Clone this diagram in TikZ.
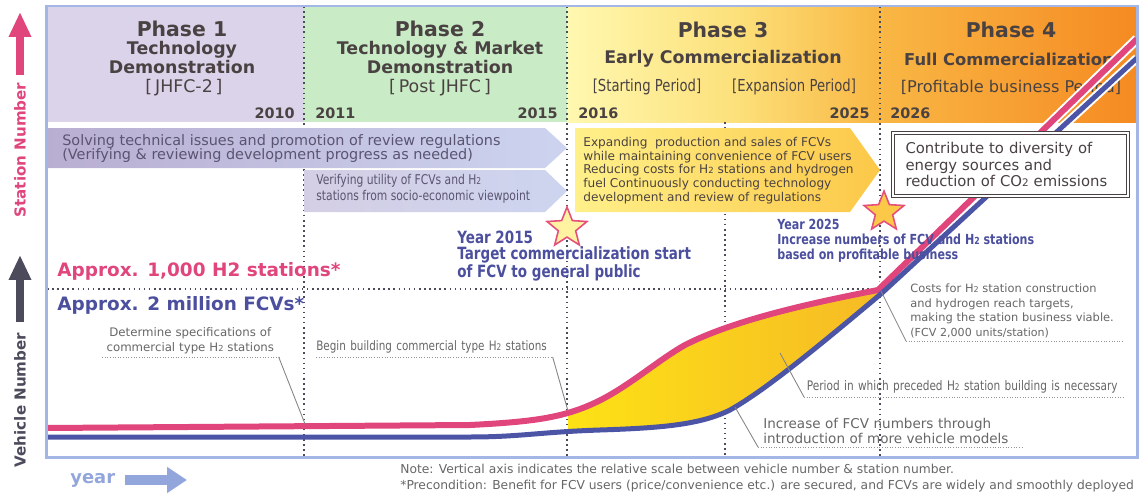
\documentclass[tikz,border=0pt]{standalone}
\usepackage{fontspec}
\setmainfont{DejaVu Sans}
\newfontfamily\narrowfont[FakeStretch=0.8]{DejaVu Sans}
\usepackage{graphicx}
\usetikzlibrary{positioning, arrows.meta, calc, shapes.geometric}

\definecolor{h2Pink}{HTML}{E0457B}
\definecolor{h2Blue}{HTML}{4C55A5}
\definecolor{h2Frame}{HTML}{A3B6E6}
\definecolor{h2Ink}{HTML}{4A4242}
\definecolor{h2Plum}{HTML}{5A5470}
\definecolor{h2Gray}{HTML}{666666}
\definecolor{h2Lavender}{HTML}{DAD3EA}
\definecolor{h2Mint}{HTML}{C9EBC6}
\definecolor{h2Cream}{HTML}{FFF8B0}
\definecolor{h2Butter}{HTML}{FCE07A}
\definecolor{h2Amber}{HTML}{F9B845}
\definecolor{h2Orange}{HTML}{F58A22}
\definecolor{h2BarDark}{HTML}{B8AED2}
\definecolor{h2BarLight}{HTML}{CDD4EF}
\definecolor{h2Lemon}{HTML}{FFF08A}
\definecolor{h2Gold}{HTML}{FCC848}
\definecolor{h2Sun}{HTML}{FFEE10}
\definecolor{h2SunDeep}{HTML}{F6BA26}
\definecolor{h2Indigo}{HTML}{4B4F9E}
\definecolor{h2Sky}{HTML}{93A6DC}
\definecolor{h2Slate}{HTML}{4B4B5C}
\definecolor{h2StarEdge}{HTML}{E4507A}

% band behind phase 3 and 4 (yellow to orange)
\pgfdeclarehorizontalshading{phaseband}{100bp}{%
  color(0bp)=(h2Cream); color(25bp)=(h2Cream); color(40bp)=(h2Butter);
  color(52bp)=(h2Amber); color(75bp)=(h2Orange); color(100bp)=(h2Orange)}

% small "2" of H2 / CO2
\newcommand{\Htwo}{H\scalebox{0.7}{2}}
\newcommand{\COtwo}{CO\scalebox{0.7}{2}}

\begin{document}
\begin{tikzpicture}[
        x=0.02cm, y=-0.02cm,
        % text styles
        phasetitle/.style={font=\bfseries\fontsize{11.6}{13}\selectfont, text=h2Ink, inner sep=0},
        phasesub/.style={font=\bfseries\fontsize{9.9}{10.8}\selectfont, text=h2Ink, inner sep=0, align=center},
        phasetag/.style={font=\fontsize{9.9}{11}\selectfont, text=h2Ink, inner sep=0},
        stagetag/.style={font=\narrowfont\fontsize{9.4}{11}\selectfont, text=h2Ink, inner sep=0},
        yearlbl/.style={font=\bfseries\fontsize{8.2}{9}\selectfont, text=h2Ink, inner sep=0},
        bartext/.style={inner sep=0, align=left, text=h2Plum},
        milestone/.style={font=\narrowfont\bfseries\fontsize{9.6}{9.1}\selectfont, text=h2Indigo, inner sep=0, align=left},
        target/.style={font=\bfseries\fontsize{10.5}{12}\selectfont, inner sep=0, anchor=west},
        annot/.style={text=h2Gray, inner xsep=0, inner ysep=0.06cm, align=left, anchor=south west},
        % lines
        guide/.style={draw=h2Slate, dotted, line width=0.9pt},
        underline/.style={draw=h2Gray!70, densely dotted, line width=0.5pt},
        leader/.style={draw=h2Gray!80, line width=0.5pt},
        stationline/.style={draw=h2Pink, line width=0.12cm, line join=round},
        vehicleline/.style={draw=h2Blue, line width=0.1cm, line join=round},
        sun/.style={star, star points=5, star point ratio=2.3, inner sep=0,
            minimum size=0.84cm, line width=0.9pt, draw=h2StarEdge}
    ]
    \useasboundingbox (0,0) rectangle (1140,497);

    % -- Header band --
    \fill[h2Lavender] (46,6) rectangle (304,122);
    \fill[h2Mint] (304,6) rectangle (567,122);
    \shade[shading=phaseband] (567,6) rectangle (1137,122);

    % -- Dotted guides --
    \foreach \gx in {304,567,880}
        \draw[guide] (\gx,6) -- (\gx,457);
    \draw[guide] (725,122) -- (725,457);
    \draw[guide] (47,289) -- (880,289);

    % -- Phase headings --
    \node[phasetitle] (ph1) at (182,29) {Phase 1};
    \node[phasesub] (ph1name) at (182,58) {Technology\\Demonstration};
    \node[phasetag] (ph1tag) at (184,88) {[\,JHFC-2\,]};

    \node[phasetitle] (ph2) at (440,29) {Phase 2};
    \node[phasesub] (ph2name) at (440,58) {Technology \& Market\\Demonstration};
    \node[phasetag] (ph2tag) at (440,88) {[\,Post JHFC\,]};

    \node[phasetitle] (ph3) at (723,30) {Phase 3};
    \node[phasesub] (ph3name) at (723,59) {Early Commercialization};
    \node[stagetag] (ph3start) at (647,87) {[Starting Period]};
    \node[stagetag] (ph3grow) at (794,87) {[Expansion Period]};

    \node[phasetitle] (ph4) at (1011,30) {Phase 4};
    \node[phasesub, font=\bfseries\fontsize{9.3}{10.8}\selectfont] (ph4name) at (1009,59) {Full Commercialization};
    \node[phasetag, font=\fontsize{9.2}{11}\selectfont] (ph4tag) at (1011,87) {[Profitable business Period]};

    % years
    \node[yearlbl, anchor=east] (y2010) at (295,113) {2010};
    \node[yearlbl, anchor=west] (y2011) at (315,113) {2011};
    \node[yearlbl, anchor=east] (y2015) at (558,113) {2015};
    \node[yearlbl, anchor=west] (y2016) at (578,113) {2016};
    \node[yearlbl, anchor=east] (y2025) at (870,113) {2025};
    \node[yearlbl, anchor=west] (y2026) at (890,113) {2026};

    % -- Activity bars --
    \shade[left color=h2BarDark, right color=h2BarLight]
        (47,128) -- (545,128) -- (567,148) -- (545,168) -- (47,168) -- cycle;
    \shade[left color=h2BarDark!60!white, right color=h2BarLight]
        (304,170) -- (545,170) -- (567,191) -- (545,212) -- (304,212) -- cycle;
    \shade[left color=h2Lemon, right color=h2Gold]
        (575,128) -- (850,128) -- (880,170) -- (850,212) -- (575,212) -- cycle;

    \node[bartext, anchor=west, font=\fontsize{8.2}{8.5}\selectfont] (techissues) at (62,148.5)
        {Solving technical issues and promotion of review regulations\\(Verifying \& reviewing development progress as needed)};
    \node[bartext, anchor=west, font=\narrowfont\fontsize{7.65}{9.4}\selectfont] (socioecon) at (316,189)
        {Verifying utility of FCVs and \Htwo\\stations from socio-economic viewpoint};
    \node[bartext, anchor=west, text=h2Ink, font=\fontsize{6.9}{7.75}\selectfont] (expand) at (583,170.5)
        {Expanding~ production and sales of FCVs\\while maintaining convenience of FCV users\\Reducing costs for \Htwo\ stations and hydrogen\\fuel Continuously conducting technology\\development and review of regulations};

    % -- Growth curves --
    \begin{scope}
        \clip (568,0) rectangle (900,460);
        \shade[left color=h2Sun, right color=h2SunDeep]
            (470,425) .. controls (530,422) and (560,418) .. (590,405)
            .. controls (625,390) and (655,362) .. (685,345)
            .. controls (730,322) and (800,305) .. (878,290)
            -- (882,293) .. controls (800,362) and (760,393) .. (730,410)
            .. controls (700,425) and (660,428) .. (600,430)
            .. controls (540,432) and (520,437) .. (470,437) -- cycle;
    \end{scope}
    \begin{scope}
        \clip (47,6) rectangle (1136,456);
        \draw[white, line width=0.2cm] (878,290) -- (1137,39);
        \draw[white, line width=0.18cm] (882,293) -- (1137,58);
        \draw[stationline] (47,428) -- (470,425)
            .. controls (530,422) and (560,418) .. (590,405)
            .. controls (625,390) and (655,362) .. (685,345)
            .. controls (730,322) and (800,305) .. (878,290) -- (1137,39);
        \draw[vehicleline] (47,437) -- (470,437)
            .. controls (520,437) and (540,432) .. (600,430)
            .. controls (660,428) and (700,425) .. (730,410)
            .. controls (760,393) and (800,362) .. (882,293) -- (1137,58);
    \end{scope}

    % goal box, in front of the curves
    \node[draw=h2Ink, double=white, double distance=0.05cm, line width=0.6pt, fill=white,
        minimum width=4.7cm, minimum height=1.26cm, inner xsep=0.25cm, text width=4.2cm,
        align=left, text=h2Ink, font=\fontsize{8.45}{9.6}\selectfont] (goal) at (1010.5,164.5)
        {Contribute to diversity of\\energy sources and\\reduction of \COtwo\ emissions};

    % -- Milestones --
    \node[sun, fill=h2Lemon!80!white] (star15) at (567,228) {};
    \node[sun, fill=h2Gold] (star25) at (884,212) {};
    \node[milestone, anchor=west] (goal15) at (457,256)
        {Year 2015\\Target commercialization start\\of FCV to general public};
    \node[milestone, anchor=west, font=\narrowfont\bfseries\fontsize{7.9}{8.5}\selectfont] (goal25) at (777,241)
        {Year 2025\\Increase numbers of FCV and \Htwo\ stations\\based on profitable business};

    \node[target, text=h2Pink] (stations) at (57,271) {Approx. 1,000 H2 stations*};
    \node[target, text=h2Indigo] (fcvs) at (57,305) {Approx. 2 million FCVs*};

    % -- Annotations with leader lines --
    \coordinate (specpt) at (305,424);
    \coordinate (buildpt) at (568,411);
    \coordinate (breakeven) at (881,291);
    \coordinate (gappt) at (780,353);
    \coordinate (modelpt) at (735,407);

    \node[annot, text width=3.52cm, align=center, font=\fontsize{6.7}{8.5}\selectfont] (specs) at (102,357)
        {Determine specifications of\\commercial type \Htwo\ stations};
    \draw[underline] (specs.south west) -- (specs.south east);
    \draw[leader] (specs.south east) -- (specpt);

    \node[annot, text width=4.72cm, font=\narrowfont\fontsize{7.4}{9}\selectfont] (building) at (316,357)
        {Begin building commercial type \Htwo\ stations};
    \draw[underline] (building.south west) -- (building.south east);
    \draw[leader] (building.south east) -- (buildpt);

    \node[annot, inner xsep=0.08cm, text width=4.2cm, font=\fontsize{6.5}{8.2}\selectfont] (viable) at (906,341)
        {Costs for \Htwo\ station construction\\and hydrogen reach targets,\\making the station business viable.\\{\fontsize{6.3}{8}\selectfont(FCV 2,000 units/station)}};
    \draw[underline] (viable.south west) -- (viable.south east);
    \draw[leader] (viable.south west) -- (breakeven);

    \node[annot, inner xsep=0.05cm, text width=6.3cm, font=\narrowfont\fontsize{7.5}{9}\selectfont] (precede) at (804,397)
        {Period in which preceded \Htwo\ station building is necessary};
    \draw[underline] (precede.south west) -- (precede.south east);
    \draw[leader] (precede.south west) -- (gappt);

    \node[annot, inner xsep=0.1cm, text width=5.08cm, font=\fontsize{7.7}{8.5}\selectfont] (models) at (758,447)
        {Increase of FCV numbers through\\introduction of more vehicle models};
    \draw[underline] (models.south west) -- (models.south east);
    \draw[leader] (models.south west) -- (modelpt);

    % -- Frame --
    \draw[h2Frame, line width=0.06cm] (46,6) rectangle (1137,457);

    % -- Axes --
    \draw[h2Pink, line width=0.17cm, -{Triangle[length=0.5cm, width=0.42cm]}] (20,75) -- (20,12);
    \node[rotate=90, font=\bfseries\fontsize{8.6}{9}\selectfont, text=h2Pink] (stationaxis) at (20,150) {Station Number};
    \draw[h2Slate, line width=0.17cm, -{Triangle[length=0.5cm, width=0.42cm]}] (20,322) -- (20,255);
    \node[rotate=90, font=\bfseries\fontsize{8.6}{9}\selectfont, text=h2Slate] (vehicleaxis) at (20,400) {Vehicle Number};

    \node[anchor=west, font=\bfseries\fontsize{10.2}{11}\selectfont, text=h2Sky, inner sep=0] (yearaxis) at (70,480) {year};
    \draw[h2Sky, line width=0.2cm, -{Triangle[length=0.4cm, width=0.5cm]}] (125,480) -- (187,480);

    \node[anchor=north west, align=left, inner sep=0, text=h2Gray, font=\fontsize{7}{9}\selectfont] (notes) at (400,464)
        {Note: Vertical axis indicates the relative scale between vehicle number \& station number.\\*Precondition: Benefit for FCV users (price/convenience etc.) are secured, and FCVs are widely and smoothly deployed};
\end{tikzpicture}
\end{document}
